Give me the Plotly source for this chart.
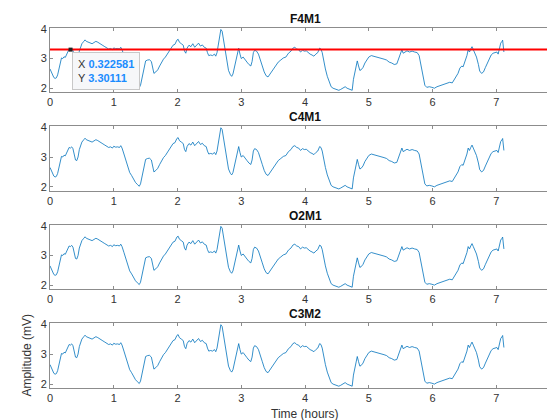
import plotly.graph_objects as go

channels = ["F4M1", "C4M1", "O2M1", "C3M2"]

time_h = [0.00, 0.02, 0.04, 0.06, 0.08, 0.10, 0.12, 0.14, 0.16, 0.18, 0.20, 0.22, 0.24, 0.26, 0.28,
          0.30, 0.32, 0.34, 0.36, 0.38, 0.40, 0.42, 0.44, 0.46, 0.48, 0.50, 0.53, 0.55, 0.57, 0.60,
          0.63, 0.66, 0.69, 0.72, 0.75, 0.78, 0.80, 0.83, 0.86, 0.89, 0.92, 0.95, 0.98, 1.00, 1.03,
          1.06, 1.09, 1.11, 1.13, 1.16, 1.19, 1.22, 1.25, 1.28, 1.31, 1.34, 1.37, 1.40, 1.42, 1.44,
          1.46, 1.48, 1.50, 1.53, 1.56, 1.59, 1.61, 1.63, 1.66, 1.69, 1.72, 1.75, 1.78, 1.81, 1.84,
          1.87, 1.90, 1.93, 1.96, 1.99, 2.01, 2.03, 2.06, 2.09, 2.11, 2.13, 2.15, 2.18, 2.21, 2.24,
          2.27, 2.30, 2.33, 2.36, 2.39, 2.42, 2.45, 2.47, 2.49, 2.52, 2.55, 2.58, 2.60, 2.62, 2.64,
          2.66, 2.68, 2.70, 2.72, 2.74, 2.76, 2.78, 2.80, 2.83, 2.85, 2.87, 2.89, 2.92, 2.94, 2.96,
          2.98, 3.00, 3.03, 3.06, 3.09, 3.12, 3.15, 3.17, 3.19, 3.21, 3.24, 3.27, 3.30, 3.33, 3.36,
          3.39, 3.42, 3.45, 3.48, 3.51, 3.55, 3.58, 3.62, 3.66, 3.70, 3.74, 3.78, 3.81, 3.84, 3.87,
          3.90, 3.93, 3.96, 3.99, 4.02, 4.05, 4.08, 4.11, 4.14, 4.17, 4.20, 4.23, 4.25, 4.27, 4.29,
          4.32, 4.35, 4.38, 4.41, 4.44, 4.47, 4.50, 4.53, 4.56, 4.60, 4.63, 4.66, 4.69, 4.72, 4.74,
          4.76, 4.78, 4.80, 4.82, 4.84, 4.86, 4.88, 4.91, 4.94, 4.97, 5.00, 5.04, 5.08, 5.12, 5.16,
          5.20, 5.24, 5.28, 5.32, 5.36, 5.40, 5.44, 5.47, 5.50, 5.52, 5.54, 5.57, 5.60, 5.64, 5.68,
          5.72, 5.76, 5.79, 5.82, 5.85, 5.88, 5.91, 5.95, 5.99, 6.03, 6.07, 6.11, 6.15, 6.19, 6.23,
          6.27, 6.31, 6.34, 6.37, 6.40, 6.43, 6.46, 6.48, 6.51, 6.54, 6.56, 6.58, 6.60, 6.62, 6.64,
          6.66, 6.69, 6.72, 6.74, 6.77, 6.80, 6.83, 6.86, 6.89, 6.92, 6.95, 6.98, 7.01, 7.03, 7.05,
          7.07, 7.09, 7.10, 7.12]

amplitude_mv = [2.65, 2.55, 2.42, 2.36, 2.33, 2.35, 2.45, 2.68, 2.90, 3.02, 3.00, 3.06, 3.04, 3.12, 3.25,
                3.32, 3.30, 3.34, 3.28, 3.05, 2.90, 2.88, 3.00, 3.25, 3.42, 3.50, 3.58, 3.63, 3.58, 3.56,
                3.52, 3.50, 3.54, 3.58, 3.55, 3.50, 3.46, 3.44, 3.40, 3.35, 3.32, 3.34, 3.30, 3.36, 3.33,
                3.34, 3.32, 3.38, 3.30, 3.10, 2.88, 2.65, 2.48, 2.38, 2.25, 2.15, 2.08, 2.02, 2.10, 2.30,
                2.55, 2.80, 2.92, 2.95, 2.96, 2.90, 2.62, 2.50, 2.55, 2.62, 2.75, 2.88, 2.98, 3.05, 3.15,
                3.28, 3.35, 3.45, 3.48, 3.62, 3.65, 3.55, 3.50, 3.45, 3.25, 3.18, 3.35, 3.45, 3.40, 3.50,
                3.38, 3.45, 3.52, 3.42, 3.46, 3.38, 3.35, 3.20, 3.10, 3.12, 3.10, 3.15, 3.08, 3.20, 3.50,
                3.80, 3.98, 3.92, 3.65, 3.35, 3.05, 2.80, 2.60, 2.45, 2.40, 2.48, 2.70, 3.00, 3.25, 3.35,
                3.15, 3.00, 3.05, 2.98, 2.88, 2.80, 2.75, 2.90, 3.20, 3.28, 3.25, 3.15, 2.98, 2.75, 2.55,
                2.42, 2.38, 2.48, 2.58, 2.65, 2.80, 2.88, 2.95, 3.02, 3.05, 3.18, 3.25, 3.35, 3.38, 3.32,
                3.30, 3.22, 3.28, 3.25, 3.26, 3.20, 3.15, 3.12, 3.08, 3.15, 3.20, 3.35, 3.32, 3.20, 2.95,
                2.65, 2.40, 2.20, 2.05, 2.00, 1.98, 1.95, 1.93, 1.96, 2.02, 2.05, 2.00, 1.98, 1.95, 1.93,
                2.30, 2.55, 2.75, 2.92, 2.75, 2.60, 2.62, 2.70, 2.85, 2.95, 3.05, 3.10, 3.08, 3.05, 3.02,
                3.00, 2.98, 2.95, 2.88, 2.85, 2.80, 2.82, 3.00, 3.15, 3.30, 3.18, 3.22, 3.26, 3.22, 3.25,
                3.22, 3.20, 3.10, 2.80, 2.45, 2.10, 2.03, 2.05, 2.03, 2.00, 2.05, 2.08, 2.10, 2.12, 2.15,
                2.20, 2.18, 2.28, 2.40, 2.50, 2.68, 2.75, 2.72, 2.90, 3.10, 3.30, 3.22, 3.32, 3.40, 3.30,
                3.22, 3.05, 2.80, 2.58, 2.50, 2.55, 2.70, 2.85, 3.00, 3.12, 3.18, 3.20, 3.22, 3.15, 3.40,
                3.52, 3.58, 3.62, 3.22]

x_ticks = [0, 1, 2, 3, 4, 5, 6, 7, 8]
y_ticks = [2, 3, 4]
threshold_y = 3.30111
tip_x = 0.322581
tip_y = 3.30111

# vertical domains of the four panels (top to bottom)
domains = [[0.822, 1.0], [0.548, 0.727], [0.275, 0.453], [0.0, 0.180]]

axis_color = "#8c8c8c"
text_color = "#333333"
font_family = "Liberation Sans, Arial, Helvetica, sans-serif"

fig = go.Figure()
layout = dict(
    width=555, height=420,
    margin=dict(l=42, r=3, t=20, b=40),
    paper_bgcolor="white", plot_bgcolor="white",
    showlegend=False,
    font=dict(family=font_family, size=11, color=text_color),
    annotations=[],
)

for i, name in enumerate(channels):
    n = "" if i == 0 else str(i + 1)
    fig.add_trace(go.Scatter(
        x=time_h, y=amplitude_mv, mode="lines",
        line=dict(color="#0072BD", width=0.8),
        xaxis="x" + n, yaxis="y" + n, hoverinfo="skip",
    ))
    layout["xaxis" + n] = dict(
        domain=[0, 1], anchor="y" + n, range=[0, 8],
        tickvals=x_ticks, ticks="inside", ticklen=3, tickcolor=axis_color,
        showline=True, linecolor=axis_color, linewidth=1, mirror="ticks",
        showgrid=False, zeroline=False, tickfont=dict(size=11, color=text_color),
    )
    layout["yaxis" + n] = dict(
        domain=domains[i], anchor="x" + n, range=[1.87, 4.03],
        tickvals=y_ticks, ticks="inside", ticklen=3, tickcolor=axis_color,
        showline=True, linecolor=axis_color, linewidth=1, mirror="ticks",
        showgrid=False, zeroline=False, tickfont=dict(size=11, color=text_color),
    )
    layout["annotations"].append(dict(
        text="<b>" + name + "</b>", xref="x" + n + " domain", yref="y" + n + " domain",
        x=0.5, y=1, xanchor="center", yanchor="bottom", yshift=0, showarrow=False,
        font=dict(size=12, color="#111111"),
    ))

# red threshold line and data tip in first panel
fig.add_trace(go.Scatter(
    x=[x_ticks[0], x_ticks[-1]], y=[threshold_y, threshold_y], mode="lines",
    line=dict(color="#ff0000", width=2), xaxis="x", yaxis="y", hoverinfo="skip",
))
fig.add_trace(go.Scatter(
    x=[tip_x], y=[tip_y], mode="markers",
    marker=dict(symbol="square", size=4, color="#222222"),
    xaxis="x", yaxis="y", hoverinfo="skip",
))
layout["annotations"].append(dict(
    text=("X <b><span style='color:#1a8cff'>%s</span></b><br>"
          "Y <b><span style='color:#1a8cff'>%s</span></b>") % ("0.322581", "3.30111"),
    xref="x", yref="y", x=0.345, y=3.22, xanchor="left", yanchor="top",
    align="left", showarrow=False, bgcolor="#f6f7f9", bordercolor="#c8c8c8",
    borderwidth=1, borderpad=5, font=dict(size=11, color="#333333"),
))

# axis labels
layout["annotations"].append(dict(
    text="Time (hours)", xref="x4 domain", yref="y4 domain", x=0.5, y=0,
    xanchor="center", yanchor="top", yshift=-17, showarrow=False,
    font=dict(size=12, color=text_color),
))
layout["annotations"].append(dict(
    text="Amplitude (mV)", xref="x4 domain", yref="y4 domain", x=0, y=0.5,
    xanchor="center", yanchor="middle", xshift=-23, textangle=-90, showarrow=False,
    font=dict(size=12, color=text_color),
))

fig.update_layout(**layout)
fig.write_html("out.html")
